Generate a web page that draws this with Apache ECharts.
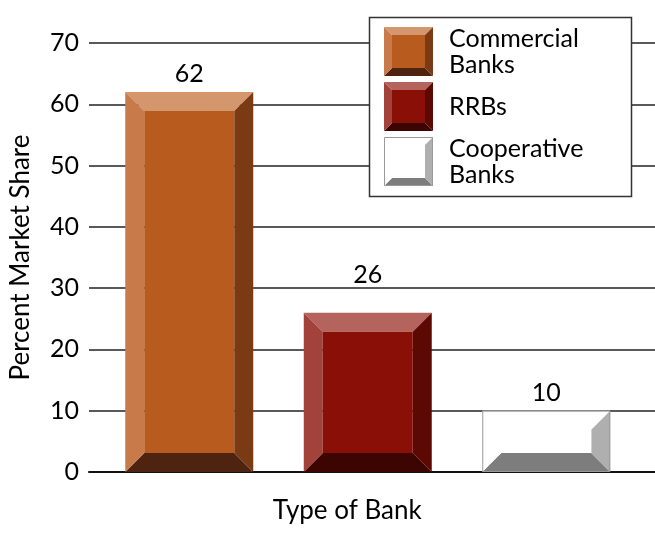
<!DOCTYPE html>
<html>
<head>
<meta charset="utf-8">
<script src="https://cdn.jsdelivr.net/npm/echarts@6/dist/echarts.min.js"></script>
<style>html,body{margin:0;padding:0;background:#fff;}#c{width:655px;height:536px;}</style>
</head>
<body>
<div id="c"></div>
<script>
// ---- data ----
var categories = ['Commercial Banks', 'RRBs', 'Cooperative Banks'];
var shares = [62, 26, 10];
var yTicks = [0, 10, 20, 30, 40, 50, 60, 70];
var yTitle = 'Percent Market Share';
var xTitle = 'Type of Bank';

// ---- styles ----
var FONT = 'Lato, "Open Sans", sans-serif';
var palettes = [
  {top:'#D4966C', left:'#C97A4A', face:'#B85B1F', right:'#7A3A13', bottom:'#4E2410', stroke:null},
  {top:'#B5635D', left:'#A3423B', face:'#8A0F06', right:'#5C0904', bottom:'#3D0502', stroke:null},
  {top:'#FFFFFF', left:'#FFFFFF', face:'#FFFFFF', right:'#AFAFAF', bottom:'#7D7D7D', stroke:'#999999'}
];

function bevelShapes(L, T, W, H, b, p) {
  var R = L + W, B = T + H;
  var els = [
    {type:'polygon', shape:{points:[[L,T],[R,T],[R-b,T+b],[L+b,T+b]]}, style:{fill:p.top}},
    {type:'polygon', shape:{points:[[L,B],[R,B],[R-b,B-b],[L+b,B-b]]}, style:{fill:p.bottom}},
    {type:'polygon', shape:{points:[[L,T],[L+b,T+b],[L+b,B-b],[L,B]]}, style:{fill:p.left}},
    {type:'polygon', shape:{points:[[R,T],[R-b,T+b],[R-b,B-b],[R,B]]}, style:{fill:p.right}},
    {type:'rect', shape:{x:L+b, y:T+b, width:W-2*b, height:H-2*b}, style:{fill:p.face}}
  ];
  if (p.stroke) {
    els.push({type:'rect', shape:{x:L+0.5, y:T+0.5, width:W-1, height:H-1}, style:{fill:null, stroke:p.stroke, lineWidth:1}});
  }
  return els;
}

var chart = echarts.init(document.getElementById('c'), null, {renderer:'canvas'});

// legend built from categories
var legendGraphic = [{
  type:'rect', shape:{x:369.5, y:17.5, width:262, height:179},
  style:{fill:'#fff', stroke:'#333', lineWidth:1.5}, z:10
}];
var legendTops = [27, 82, 137];
categories.forEach(function(name, i){
  var y0 = legendTops[i];
  bevelShapes(384, y0, 49, 49, 8, palettes[i]).forEach(function(e){ e.z = 11; legendGraphic.push(e); });
  legendGraphic.push({
    type:'text', z:11,
    style:{x:449, y:y0+24.5, text:name.replace(' ', '\n'), fill:'#000',
      font:'25px ' + FONT, lineHeight:26, textVerticalAlign:'middle', verticalAlign:'middle', align:'left'}
  });
});

var option = {
  animation:false,
  backgroundColor:'#fff',
  textStyle:{fontFamily:FONT},
  grid:[
    {left:88, right:0, top:43, bottom:64},
    {left:100, right:19.5, top:43, bottom:64}
  ],
  xAxis:[
    {gridIndex:0, type:'category', data:[''], axisLabel:{show:false}, axisTick:{show:false},
     axisLine:{lineStyle:{color:'#111', width:2}}},
    {gridIndex:1, type:'category', data:categories, axisLabel:{show:false}, axisTick:{show:false},
     axisLine:{show:false}, name:xTitle, nameLocation:'middle', nameGap:26,
     nameTextStyle:{fontSize:26, color:'#000', fontFamily:FONT, padding:[0,41,0,0]}}
  ],
  yAxis:[
    {gridIndex:0, type:'value', min:yTicks[0], max:yTicks[yTicks.length-1], interval:yTicks[1]-yTicks[0],
     axisLine:{show:false}, axisTick:{show:false},
     axisLabel:{fontSize:25, color:'#000', margin:10, fontFamily:FONT},
     splitLine:{lineStyle:{color:'#222', width:1.5}},
     name:yTitle, nameLocation:'middle', nameGap:55,
     nameTextStyle:{fontSize:26, color:'#000', fontFamily:FONT}},
    {gridIndex:1, type:'value', min:yTicks[0], max:yTicks[yTicks.length-1], show:false}
  ],
  series:[{
    type:'custom',
    xAxisIndex:1, yAxisIndex:1,
    data:shares.map(function(v, i){ return [i, v]; }),
    encode:{x:0, y:1},
    z:5,
    renderItem:function(params, api){
      var i = api.value(0);
      var v = api.value(1);
      var top = api.coord([i, v]);
      var base = api.coord([i, 0]);
      var band = api.size([1, 0])[0];
      var W = band * 0.717;
      var L = top[0] - W/2;
      var T = top[1];
      var H = base[1] - top[1];
      var children = bevelShapes(L, T, W, H, 19, palettes[params.dataIndex]);
      // label: above bar, nudged above a gridline if it would cross the text
      var cy = T - 18;
      yTicks.forEach(function(t){
        var gy = api.coord([i, t])[1];
        if (gy > cy - 12 && gy < cy + 12) cy = gy - 13;
      });
      children.push({type:'text', style:{x:top[0], y:cy, text:String(v), fill:'#000',
        font:'25px ' + FONT, align:'center', verticalAlign:'middle', textAlign:'center', textVerticalAlign:'middle'}});
      return {type:'group', children:children};
    }
  }],
  graphic:legendGraphic
};
chart.setOption(option);
</script>
</body>
</html>
